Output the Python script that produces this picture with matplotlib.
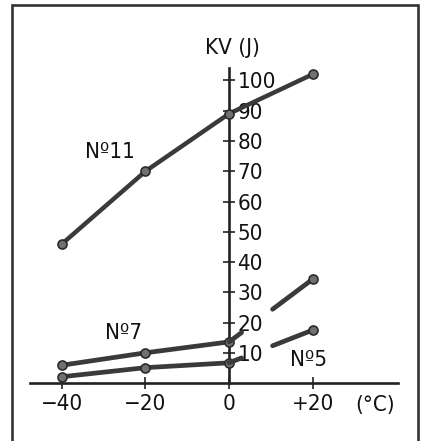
import numpy as np
import matplotlib
matplotlib.use("Agg")
import matplotlib.pyplot as plt
from matplotlib.patches import Rectangle
from matplotlib import font_manager

# donnees
temp = [-40, -20, 0, 20]
kv_11 = [46, 70, 89, 102]
kv_7 = [6.0, 10.1, 13.7, 34.4]
kv_5 = [2.2, 5.2, 6.8, 17.6]

yticks = [10, 20, 30, 40, 50, 60, 70, 80, 90, 100]
xticks = [-40, -20, 0, 20]
xlabels = ["\u221240", "\u221220", "0", "+20"]

# police etroite si disponible
noms = set(f.name for f in font_manager.fontManager.ttflist)
cond = [f for f in font_manager.fontManager.ttflist
        if f.name == "DejaVu Sans" and "condensed" in str(f.stretch)]
if "Liberation Sans Narrow" in noms:
    famille, etire = "Liberation Sans Narrow", "normal"
elif cond:
    famille, etire = "DejaVu Sans", "condensed"
else:
    famille, etire = "DejaVu Sans", "normal"

col = "#3a3a3a"
taille = 16
font = dict(family=famille, stretch=etire, size=taille, color="#111")

fig = plt.figure(figsize=(4.21, 4.41), dpi=100)
ax = fig.add_axes([0, 0, 1, 1])
ax.set_xlim(-54.8, 45.9)
ax.set_ylim(-19.0, 126.5)
ax.patch.set_visible(False)

# axes en croix
ax.spines["top"].set_visible(False)
ax.spines["left"].set_position(("data", 0))
ax.spines["right"].set_position(("data", 0))
ax.spines["right"].set_color("none")
ax.spines["bottom"].set_position(("data", 0))
ax.spines["left"].set_bounds(0, 104)
ax.spines["bottom"].set_bounds(-47.6, 40.4)
for s in ["left", "bottom"]:
    ax.spines[s].set_linewidth(1.9)
    ax.spines[s].set_color("#222")

ax.set_yticks(yticks)
ax.set_yticklabels([str(v) for v in yticks])
ax.tick_params(axis="y", left=True, right=False, labelleft=False, labelright=True,
               direction="inout", length=8, width=1.2, color="#222", pad=2)
ax.set_xticks(xticks)
ax.set_xticklabels(xlabels)
ax.tick_params(axis="x", direction="inout", length=9, width=1.2, color="#222", pad=3)
for lab in ax.get_xticklabels() + ax.get_yticklabels():
    lab.set_fontfamily(famille)
    lab.set_fontstretch(etire)
    lab.set_fontsize(taille)
    lab.set_color("#111")

mk = dict(marker="o", ms=6.5, mfc="#707070", mec="#2a2a2a", mew=1.2)

# courbe N 11 complete
ax.plot(temp, kv_11, color=col, lw=3.2, solid_capstyle="round", zorder=3, **mk)

# courbes N 7 et N 5 : interrompues derriere les graduations
for kv in [kv_7, kv_5]:
    ax.plot(temp[:3], kv[:3], color=col, lw=3.4, solid_capstyle="round", zorder=3, **mk)
    x0, x1 = temp[2], temp[3]
    y0, y1 = kv[2], kv[3]
    f = np.array([0.0, 0.15])
    ax.plot(x0 + f * (x1 - x0), y0 + f * (y1 - y0), color=col, lw=3.4,
            solid_capstyle="round", zorder=3)
    f = np.array([0.52, 1.0])
    ax.plot(x0 + f * (x1 - x0), y0 + f * (y1 - y0), color=col, lw=3.4,
            solid_capstyle="round", zorder=3)
    ax.plot([x1], [y1], linestyle="none", zorder=4, **mk)

# textes
ax.text(0.8, 110.5, "KV (J)", ha="center", va="center", **font)
ax.text(35, -7.1, "(\u00b0C)", ha="center", va="center", **font)
ax.text(-34.4, 76.3, "N\u00ba11", ha="left", va="center", **font)
ax.text(-29.7, 16.6, "N\u00ba7", ha="left", va="center", **font)
ax.text(14.6, 7.7, "N\u00ba5", ha="left", va="center", **font)

# cadre
fig.patches.append(Rectangle((0.0285, -0.1), 0.964, 1.089, fill=False, lw=1.9,
                             edgecolor="#333", transform=fig.transFigure))

fig.savefig("out.png", dpi=100)
